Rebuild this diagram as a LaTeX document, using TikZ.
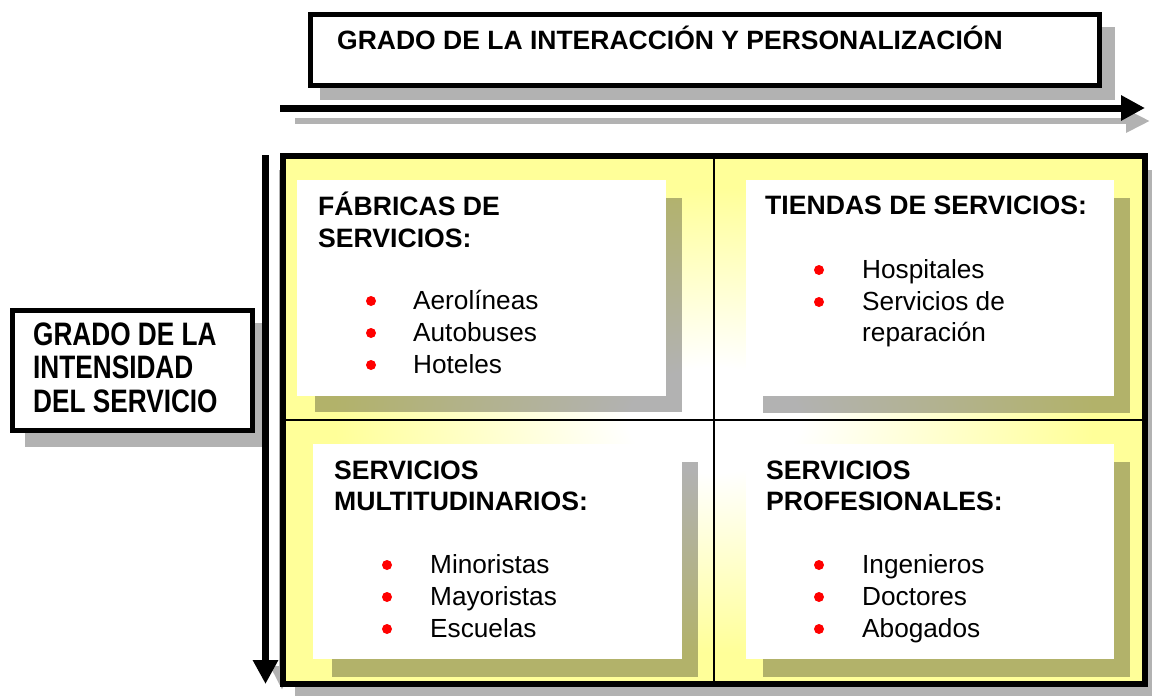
\documentclass[tikz,border=0pt]{standalone}
\usepackage{fontspec}
\setmainfont{Liberation Sans}
\usetikzlibrary{arrows.meta}
\definecolor{qyellow}{RGB}{255,255,153}
\pgfdeclareradialshading{quadshade}{\pgfpoint{0bp}{0bp}}{color(0bp)=(white); color(5bp)=(white); color(22bp)=(qyellow); color(50bp)=(qyellow)}
\begin{document}
\begin{tikzpicture}[x=1pt,y=-1pt,
  shadowfill/.style={fill=black,fill opacity=0.3,draw=none},
  card/.style={fill=white,draw=none,anchor=north west,inner sep=0},
  frame/.style={draw=black,fill=white,anchor=north west,inner sep=0},
  head/.style={font=\bfseries\fontsize{26.6}{32}\selectfont,anchor=base west,inner sep=0},
  item/.style={font=\fontsize{26.2}{32}\selectfont,anchor=base west,inner sep=0},
  bul/.style={circle,fill=red,draw=none,inner sep=0,minimum size=10pt},
  bigarrow/.style={line width=7pt,-{Triangle[length=24pt,width=24pt]}},
  shadowarrow/.style={draw=black!30,line width=6pt,-{Triangle[length=24pt,width=22pt]}}]
\useasboundingbox (0,0) rectangle (1152,696);
% ---- shadows
\fill[shadowfill] (320,27) rectangle (1115,100);
\fill[shadowfill] (25,323) rectangle (263,447);
\fill[shadowfill] (295,170) rectangle (1165,710);
% ---- arrow shadows
\coordinate (hs1) at (295,121);
\coordinate (hs2) at (1150,121);
\draw[shadowarrow] (hs1) -- (hs2);
\coordinate (vs1) at (282,170);
\coordinate (vs2) at (282,690);
\draw[shadowarrow] (vs1) -- (vs2);
% ---- top box
\node[frame,line width=5pt,minimum width=789pt,minimum height=71pt] (topbox) at (308,12) {};
\node[head,font=\bfseries\fontsize{26.5}{30}\selectfont] (toptxt) at (337,49) {GRADO DE LA INTERACCIÓN Y PERSONALIZACIÓN};
% ---- arrows
\coordinate (ha1) at (280,108);
\coordinate (ha2) at (1145,108);
\draw[bigarrow] (ha1) -- (ha2);
\coordinate (va1) at (265.5,155);
\coordinate (va2) at (265.5,684);
\draw[bigarrow] (va1) -- (va2);
% ---- left box
\node[frame,line width=5pt,minimum width=240pt,minimum height=120pt] (leftbox) at (9.5,307.5) {};
\node[anchor=base west,inner sep=0] (lt1) at (33,345) {\scalebox{1}[1.24]{\bfseries\fontsize{26.2}{30}\selectfont GRADO DE LA}};
\node[anchor=base west,inner sep=0] (lt2) at (33,378) {\scalebox{1}[1.24]{\bfseries\fontsize{26.2}{30}\selectfont INTENSIDAD}};
\node[anchor=base west,inner sep=0] (lt3) at (33,412) {\scalebox{1}[1.24]{\bfseries\fontsize{26.2}{30}\selectfont DEL SERVICIO}};
% ---- quadrant grid
\shade[shading=quadshade] (283,156) rectangle (1145,684);
\draw[line width=1.8pt] (714,156) -- (714,684);
\draw[line width=1.8pt] (283,420) -- (1145,420);
% ---- cards
\fill[shadowfill] (315,198) rectangle (682,412);
\fill[shadowfill] (763,198) rectangle (1130,413);
\fill[shadowfill] (332,462) rectangle (698,677);
\fill[shadowfill] (763,462) rectangle (1130,677);
\node[card,minimum width=369pt,minimum height=216pt] (tl) at (297,180) {};
\node[card,minimum width=368pt,minimum height=216pt] (tr) at (746,180) {};
\node[card,minimum width=369pt,minimum height=215pt] (bl) at (313,444) {};
\node[card,minimum width=368pt,minimum height=215pt] (br) at (746,444) {};
\draw[line width=6pt] (283,156) rectangle (1145,684);
% ---- TL text
\node[head] (tlh1) at (318,215) {FÁBRICAS DE};
\node[head] (tlh2) at (318,247) {SERVICIOS:};
\node[bul] (tlb1) at (371,301) {};
\node[bul] (tlb2) at (371,333) {};
\node[bul] (tlb3) at (371,365) {};
\node[item] (tli1) at (413,309) {Aerolíneas};
\node[item] (tli2) at (413,341) {Autobuses};
\node[item] (tli3) at (413,373) {Hoteles};
% ---- TR text
\node[head] (trh1) at (765,214) {TIENDAS DE SERVICIOS:};
\node[bul] (trb1) at (819,270) {};
\node[bul] (trb2) at (819,302) {};
\node[item] (tri1) at (862,278) {Hospitales};
\node[item] (tri2) at (862,310) {Servicios de};
\node[item] (tri3) at (862,341) {reparación};
% ---- BL text
\node[head] (blh1) at (334,479) {SERVICIOS};
\node[head] (blh2) at (334,510) {MULTITUDINARIOS:};
\node[bul] (blb1) at (387,565) {};
\node[bul] (blb2) at (387,597) {};
\node[bul] (blb3) at (387,629) {};
\node[item] (bli1) at (430,573) {Minoristas};
\node[item] (bli2) at (430,605) {Mayoristas};
\node[item] (bli3) at (430,637) {Escuelas};
% ---- BR text
\node[head] (brh1) at (766,479) {SERVICIOS};
\node[head] (brh2) at (766,510) {PROFESIONALES:};
\node[bul] (brb1) at (819,565) {};
\node[bul] (brb2) at (819,597) {};
\node[bul] (brb3) at (819,629) {};
\node[item] (bri1) at (862,573) {Ingenieros};
\node[item] (bri2) at (862,605) {Doctores};
\node[item] (bri3) at (862,637) {Abogados};
\end{tikzpicture}
\end{document}
